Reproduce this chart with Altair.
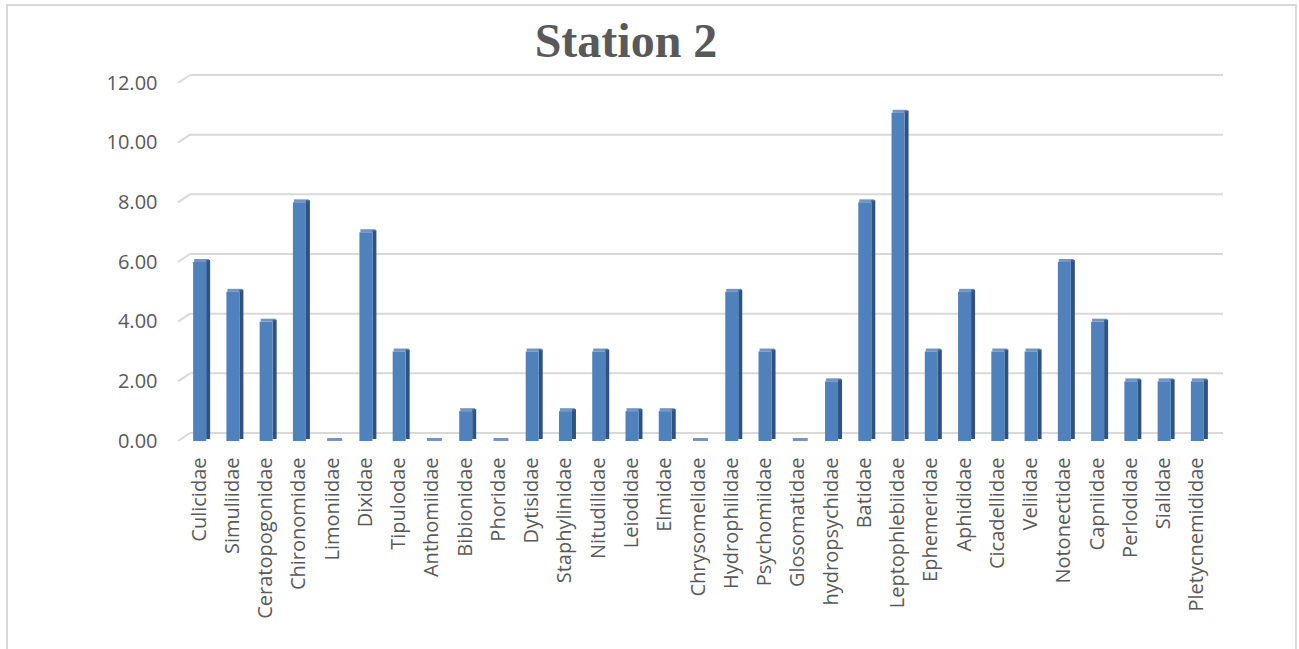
import altair as alt
import pandas as pd

families = ["Culicidae", "Simuliidae", "Ceratopogonidae", "Chironomidae", "Limoniidae",
            "Dixidae", "Tipulodae", "Anthomiidae", "Bibionidae", "Phoridae", "Dytisidae",
            "Staphylinidae", "Nitudilidae", "Leiodidae", "Elmidae", "Chrysomelidae",
            "Hydrophilidae", "Psychomiidae", "Glosomatidae", "hydropsychidae", "Batidae",
            "Leptophlebiidae", "Ephemeridae", "Aphididae", "Cicadellidae", "Veliidae",
            "Notonectidae", "Capniidae", "Perlodidae", "Sialidae", "Pletycnemididae"]
values = [6, 5, 4, 8, 0, 7, 3, 0, 1, 0, 3, 1, 3, 1, 1, 0, 5, 3, 0, 2, 8, 11, 3, 5, 3, 3,
          6, 4, 2, 2, 2]
y_ticks = [0, 2, 4, 6, 8, 10, 12]

df = pd.DataFrame({"family": families, "value": values})
grid_df = pd.DataFrame({"tick": y_ticks})

W, H = 1031, 358
LEFT, TOP = 183, 83

x = alt.X("family:N", sort=None, title=None,
          scale=alt.Scale(paddingInner=0.6, paddingOuter=0.3),
          axis=alt.Axis(labelAngle=270, labelAlign="right", labelBaseline="middle",
                        labelPadding=16, ticks=False, domain=False, labelFontSize=20,
                        labelColor="#595959", labelFont="Open Sans", labelLimit=300))
yscale = alt.Scale(domain=[0, 12], nice=False)
yaxis = alt.Axis(values=y_ticks, format=".2f", ticks=False, domain=False, grid=False,
                 labelFontSize=20, labelColor="#595959", labelFont="Open Sans",
                 labelPadding=26)
y = alt.Y("value:Q", title=None, scale=yscale, axis=yaxis)
yg = alt.Y("tick:Q", title=None, scale=yscale, axis=yaxis)

# back-wall gridlines (3D depth offset) and their short diagonal floor stubs
grid = alt.Chart(grid_df).mark_rule(color="#D9D9D9", strokeWidth=2, yOffset=-8).encode(
    y=yg, x=alt.value(190 - LEFT), x2=alt.value(1223 - LEFT))
stub = alt.Chart(grid_df).mark_rule(color="#D9D9D9", strokeWidth=2, y2Offset=-8).encode(
    y=yg, y2="tick:Q", x=alt.value(178 - LEFT), x2=alt.value(190 - LEFT))

base = alt.Chart(df)
side = base.mark_bar(size=4, color="#2F5280", xOffset=8.5, yOffset=-2).encode(x=x, y=y)
top = base.mark_tick(size=15, thickness=3, color="#3A68A3", xOffset=2, yOffset=-1.5,
                     orient="horizontal").encode(x=x, y=y)
front = base.mark_bar(size=13, color="#4F81BD").encode(x=x, y=y)

frame = alt.Chart(pd.DataFrame({"k": [0]})).mark_rect(
    fill=None, stroke="#D9D9D9", strokeWidth=2).encode(
    x=alt.value(7 - LEFT), x2=alt.value(1296 - LEFT),
    y=alt.value(5 - TOP), y2=alt.value(700 - TOP))

title = alt.Chart(pd.DataFrame({"t": ["Station 2"]})).mark_text(
    font="Liberation Serif", fontSize=48, fontWeight="bold", color="#595959",
    align="center", baseline="alphabetic").encode(
    text="t:N", x=alt.value(626 - LEFT), y=alt.value(57 - TOP))

chart = alt.layer(frame, grid, stub, side, top, front, title).properties(
    width=W, height=H,
    autosize=alt.AutoSizeParams(type="none"),
    padding={"left": LEFT, "top": TOP, "right": 1299 - LEFT - W, "bottom": 649 - TOP - H},
    background="white",
).configure_view(stroke=None)

chart.save("out.html", embed_options={"renderer": "svg", "actions": False})
